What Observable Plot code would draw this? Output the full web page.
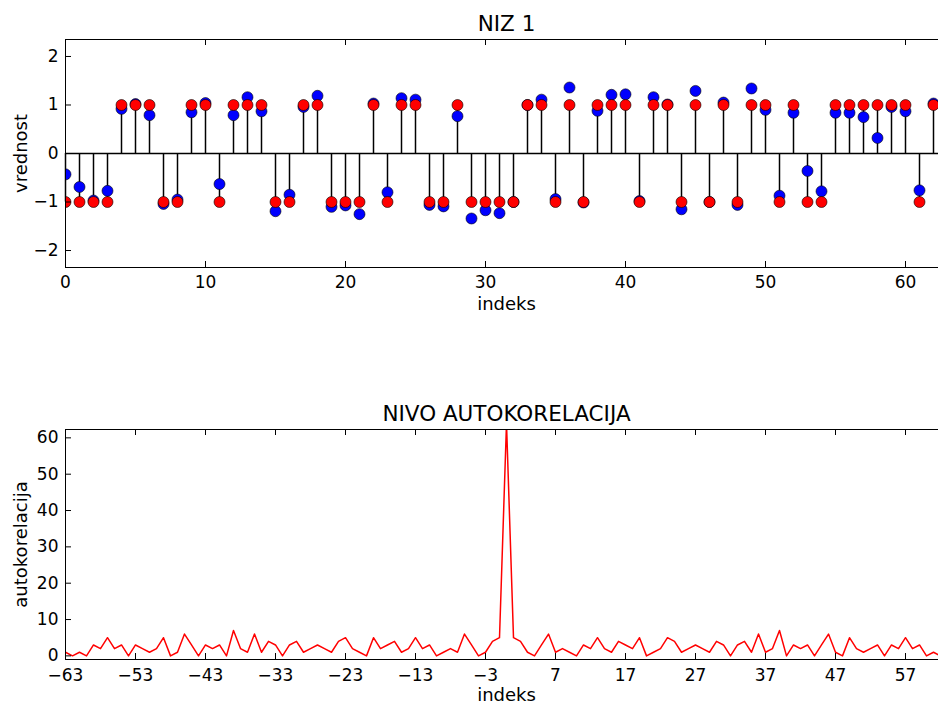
<!DOCTYPE html>
<html>
<head>
<meta charset="utf-8">
<script src="https://cdn.jsdelivr.net/npm/d3@7"></script>
<script src="https://cdn.jsdelivr.net/npm/@observablehq/plot@0.6"></script>
<style>
  html, body { margin: 0; padding: 0; background: #fff; overflow: hidden; }
  #chart svg { display: block; }
</style>
</head>
<body>
<div id="chart"></div>
<script>
// ---------- DATA ----------
// Transmitted sequence (red), indices 0..62
const niz = [-1,-1,-1,-1,1,1,1,-1,-1,1,1,-1,1,1,1,-1,-1,1,1,-1,-1,-1,1,-1,1,1,-1,-1,1,-1,-1,-1,-1,1,1,-1,1,-1,1,1,1,-1,1,1,-1,1,-1,1,-1,1,1,-1,1,-1,-1,1,1,1,1,1,1,-1,1];
// Noisy sequence (blue), indices 0..62
const primljen = [-0.43,-0.69,-0.97,-0.77,0.92,1.02,0.79,-1.04,-0.95,0.85,1.04,-0.63,0.79,1.16,0.87,-1.19,-0.85,0.96,1.19,-1.10,-1.07,-1.25,1.03,-0.80,1.14,1.11,-1.06,-1.09,0.77,-1.34,-1.17,-1.23,-1.00,1.00,1.11,-0.94,1.36,-1.01,0.88,1.21,1.22,-0.98,1.16,1.01,-1.15,1.29,-1.00,1.05,-1.06,1.34,0.90,-0.87,0.84,-0.36,-0.78,0.84,0.84,0.75,0.32,0.96,0.87,-0.76,1.03];
// Autocorrelation level, lags -63..63
const lags = d3.range(-63, 64);
const autokorelacija = [
  1,0,1,0,3,2,5,2,3,0,3,2,1,2,5,0,1,6,3,0,3,2,3,0,7,2,1,6,1,4,3,0,3,4,1,2,3,2,1,4,5,2,1,0,5,2,3,4,1,2,5,2,3,0,1,2,1,6,3,0,1,4,5,
  64,
  5,4,1,0,3,6,1,2,1,0,3,2,5,2,1,4,3,2,5,0,1,2,5,4,1,2,3,2,1,4,3,0,3,4,1,6,1,2,7,0,3,2,3,0,3,6,1,0,5,2,1,2,3,0,3,2,5,2,3,0,1,0,1
];
// Tick values
const xTicksTop = [0,10,20,30,40,50,60];
const yTicksTop = [-2,-1,0,1,2];
const xTicksBottom = [-63,-53,-43,-33,-23,-13,-3,7,17,27,37,47,57];
const yTicksBottom = [0,10,20,30,40,50,60];

// ---------- LAYOUT ----------
const W = 938;
const FONT = "'DejaVu Sans', sans-serif";
const plotW = W - 65;
const TICK_FS = 17, LABEL_FS = 18, TITLE_FS = 21.5;
const fmt = d3.format("d");

function labels(title, xlabel, ylabel, titleDy, xDy) {
  return [
    Plot.text([title], {frameAnchor: "top", dx: 4.5, dy: titleDy, fontSize: TITLE_FS, lineAnchor: "middle", textAnchor: "middle"}),
    Plot.text([xlabel], {frameAnchor: "bottom", dx: 4.5, dy: xDy, fontSize: LABEL_FS, lineAnchor: "middle", textAnchor: "middle"}),
    Plot.text([ylabel], {frameAnchor: "left", dx: -44, rotate: -90, fontSize: LABEL_FS, lineAnchor: "middle", textAnchor: "middle"})
  ];
}

function stemChart() {
  const H = 330, mt = 39, mb = 63;
  const plotH = H - mt - mb;
  const yDom = [-2.35, 2.35];
  return Plot.plot({
    width: W, height: H,
    marginTop: mt, marginBottom: mb, marginLeft: 65, marginRight: 0,
    style: {fontFamily: FONT, fontSize: TICK_FS + "px", color: "#000", background: "#fff", overflow: "visible"},
    x: {domain: [0, plotW / 14]},
    y: {domain: yDom},
    marks: [
      Plot.ruleY([0], {stroke: "#000", strokeWidth: 1.5}),
      Plot.ruleX(niz, {x: (d, i) => i, y1: 0, y2: d => d, stroke: "#000", strokeWidth: 1.5}),
      Plot.dot(primljen, {x: (d, i) => i, y: d => d, r: 5.5, fill: "#0000ff", stroke: "#000", strokeWidth: 0.6, clip: true}),
      Plot.dot(niz, {x: (d, i) => i, y: d => d, r: 5.5, fill: "#ff0000", stroke: "#000", strokeWidth: 0.6, clip: true}),
      // frame
      Plot.ruleY(yDom, {stroke: "#000", strokeWidth: 1}),
      Plot.ruleX([0], {stroke: "#000", strokeWidth: 1}),
      // inward tick marks
      Plot.ruleX(xTicksTop, {insetTop: plotH - 6, stroke: "#000"}),
      Plot.ruleX(xTicksTop, {insetBottom: plotH - 6, stroke: "#000"}),
      Plot.ruleY(yTicksTop, {insetRight: plotW - 6, stroke: "#000"}),
      Plot.axisX({ticks: xTicksTop, tickFormat: fmt, tickSize: 0, tickPadding: 8, label: null, fontSize: TICK_FS}),
      Plot.axisY({ticks: yTicksTop, tickFormat: fmt, tickSize: 0, tickPadding: 7, label: null, fontSize: TICK_FS}),
      ...labels("NIZ 1", "indeks", "vrednost", -15.6, 37)
    ]
  });
}

function acfChart() {
  const H = 704 - 330, mt = 99, mb = 45;
  const plotH = H - mt - mb;
  const yDom = [-1, 62.3];
  const xDom = [-63, -63 + plotW / 7];
  return Plot.plot({
    width: W, height: H,
    marginTop: mt, marginBottom: mb, marginLeft: 65, marginRight: 0,
    style: {fontFamily: FONT, fontSize: TICK_FS + "px", color: "#000", background: "#fff", overflow: "visible"},
    x: {domain: xDom},
    y: {domain: yDom},
    marks: [
      Plot.line(autokorelacija, {x: (d, i) => lags[i], y: d => d, stroke: "#ff0000", strokeWidth: 1.5, clip: true}),
      // frame
      Plot.ruleY(yDom, {stroke: "#000", strokeWidth: 1}),
      Plot.ruleX([xDom[0]], {stroke: "#000", strokeWidth: 1}),
      // inward tick marks
      Plot.ruleX(xTicksBottom, {insetTop: plotH - 6, stroke: "#000"}),
      Plot.ruleX(xTicksBottom, {insetBottom: plotH - 6, stroke: "#000"}),
      Plot.ruleY(yTicksBottom, {insetRight: plotW - 6, stroke: "#000"}),
      Plot.axisX({ticks: xTicksBottom, tickFormat: fmt, tickSize: 0, tickPadding: 9, label: null, fontSize: TICK_FS}),
      Plot.axisY({ticks: yTicksBottom, tickFormat: fmt, tickSize: 0, tickPadding: 7, label: null, fontSize: TICK_FS}),
      ...labels("NIVO AUTOKORELACIJA", "indeks", "autokorelacija", -15.6, 35.7)
    ]
  });
}

const root = document.getElementById("chart");
root.appendChild(stemChart());
root.appendChild(acfChart());
</script>
</body>
</html>
